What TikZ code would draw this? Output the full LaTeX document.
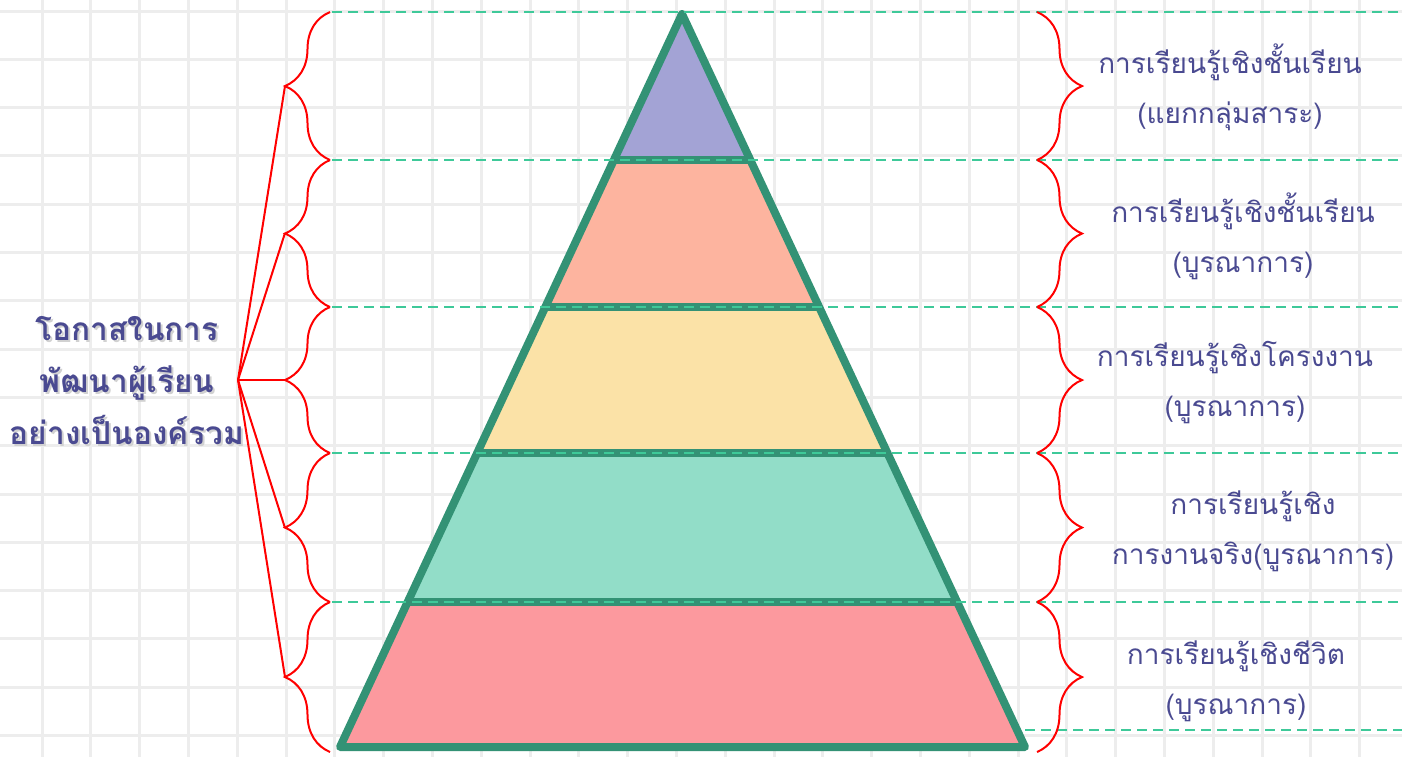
\documentclass[tikz,border=0pt]{standalone}
\usepackage{fontspec}
\newfontfamily\thaifont[Script=Thai]{Loma}
\usetikzlibrary{decorations.pathreplacing, calc}
\definecolor{gridgray}{RGB}{237,237,237}
\definecolor{pyrgreen}{RGB}{51,146,117}
\definecolor{dashgreen}{RGB}{62,201,153}
\definecolor{textpurple}{RGB}{74,74,145}
\definecolor{layerA}{RGB}{163,163,213}
\definecolor{layerB}{RGB}{253,180,159}
\definecolor{layerC}{RGB}{251,226,167}
\definecolor{layerD}{RGB}{146,221,200}
\definecolor{layerE}{RGB}{252,153,158}

\begin{document}
\begin{tikzpicture}[x=0.5pt, y=-0.5pt,
    rlabel/.style={align=center, text=textpurple, font=\thaifont\fontsize{14}{25}\selectfont},
    redbrace/.style={red, line width=1pt, decorate, decoration={brace, amplitude=22.5pt}}]
    \useasboundingbox (0,0) rectangle (1402,757);
    \fill[white] (0,0) rectangle (1402,757);

    \begin{scope}
        \clip (0,0) rectangle (1402,757);
        \foreach \i in {0,...,27} {
            \draw[gridgray, line width=1.5pt] (42+48.8*\i,0) -- (42+48.8*\i,757);
        }
        \foreach \i in {0,...,15} {
            \draw[gridgray, line width=1.5pt] (0,11+48.3*\i) -- (1402,11+48.3*\i);
        }
    \end{scope}

    \coordinate (apex) at (682,14);
    \coordinate (bl) at (340,747);
    \coordinate (br) at (1025,747);
    \foreach \t/\n in {0.1992/1, 0.3997/2, 0.5989/3, 0.8022/4} {
        \coordinate (l\n) at ($(apex)!\t!(bl)$);
        \coordinate (r\n) at ($(apex)!\t!(br)$);
    }

    \fill[layerA] (apex) -- (l1) -- (r1) -- cycle;
    \fill[layerB] (l1) -- (l2) -- (r2) -- (r1) -- cycle;
    \fill[layerC] (l2) -- (l3) -- (r3) -- (r2) -- cycle;
    \fill[layerD] (l3) -- (l4) -- (r4) -- (r3) -- cycle;
    \fill[layerE] (l4) -- (bl) -- (br) -- (r4) -- cycle;
    \draw[pyrgreen, line width=4pt, line join=round] (apex) -- (bl) -- (br) -- cycle;
    \foreach \n in {1,...,4} {
        \draw[pyrgreen, line width=4pt] (l\n) -- (r\n);
    }

    \foreach \y in {12,160,307,453,602} {
        \draw[dashgreen, line width=1pt, dash pattern=on 5pt off 3pt] (332,\y) -- (1402,\y);
    }
    \draw[dashgreen, line width=1pt, dash pattern=on 5pt off 3pt] (1025,730) -- (1402,730);

    % braces on both sides
    \foreach \a/\b in {12/160, 160/307, 307/453, 453/602, 602/752} {
        \draw[redbrace] (330,\b) -- (330,\a);
        \draw[redbrace] (1037,\a) -- (1037,\b);
    }

    \coordinate (hub) at (238,380);
    \foreach \y/\n in {86/1, 233/2, 380/3, 528/4, 677/5} {
        \coordinate (tip\n) at (285,\y);
        \draw[red, line width=1pt] (hub) -- (tip\n);
    }

    \node[align=center, text=black!18, font=\thaifont\bfseries\fontsize{15.8}{26}\selectfont]
        (goalshadow) at (129,383) {โอกาสในการ\\พัฒนาผู้เรียน\\อย่างเป็นองค์รวม};
    \node[align=center, text=textpurple, font=\thaifont\bfseries\fontsize{15.8}{26}\selectfont]
        (goal) at (127,381) {โอกาสในการ\\พัฒนาผู้เรียน\\อย่างเป็นองค์รวม};

    \node[rlabel] (lab1) at (1230,87) {การเรียนรู้เชิงชั้นเรียน\\(แยกกลุ่มสาระ)};
    \node[rlabel] (lab2) at (1243,236) {การเรียนรู้เชิงชั้นเรียน\\(บูรณาการ)};
    \node[rlabel] (lab3) at (1235,383) {การเรียนรู้เชิงโครงงาน\\(บูรณาการ)};
    \node[rlabel] (lab4) at (1253,531) {การเรียนรู้เชิง\\การงานจริง(บูรณาการ)};
    \node[rlabel] (lab5) at (1236,681) {การเรียนรู้เชิงชีวิต\\(บูรณาการ)};
\end{tikzpicture}
\end{document}
